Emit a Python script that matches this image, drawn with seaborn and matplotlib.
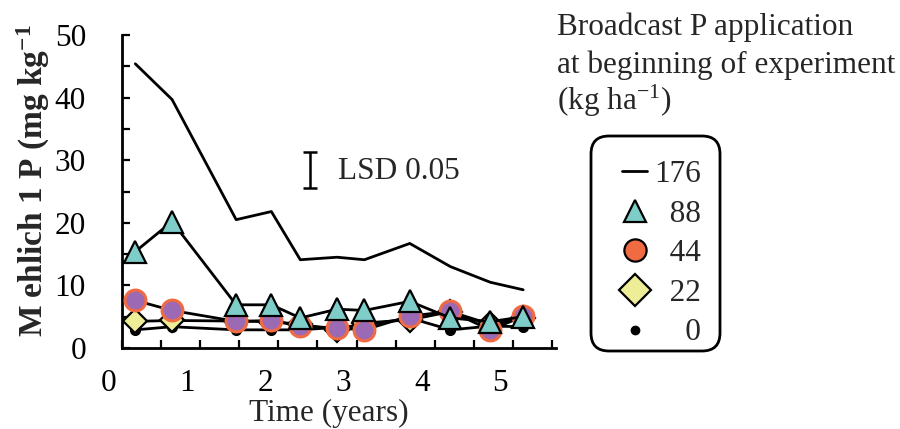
import numpy as np
import pandas as pd
import matplotlib
matplotlib.use("Agg")
import matplotlib.pyplot as plt
import seaborn as sns
from matplotlib.lines import Line2D
from matplotlib.patches import FancyBboxPatch
from matplotlib.ticker import FixedLocator, MultipleLocator
from matplotlib.transforms import ScaledTranslation, IdentityTransform

# ---------------- data ----------------
years = [0.17, 0.64, 1.46, 1.91, 2.28, 2.75, 3.10, 3.68, 4.20, 4.71, 5.13]
p176 = [45.4, 39.7, 20.5, 21.8, 14.1, 14.5, 14.1, 16.7, 13.0, 10.5, 9.3]
p88 = [15.4, 20.2, 6.9, 6.9, 4.8, 6.2, 6.0, 7.45, 4.8, 4.2, 5.0]
p44 = [7.6, 6.0, 4.25, 4.4, 3.5, 3.2, 2.9, 5.1, 5.85, 2.9, 5.05]
p22 = [4.25, 4.4, 4.3, 4.2, 3.8, 2.9, 4.0, 4.5, 5.8, 3.8, 4.8]
p0 = [2.9, 3.4, 2.9, 2.9, 2.9, 3.3, 3.6, 4.8, 2.9, 3.5, 3.4]

series_names = ["176", "88", "44", "22", "0"]
legend_labels = ["176", "\u200788", "\u200744", "\u200722", "\u2007\u20070"]
x_ticks = [0, 1, 2, 3, 4, 5]
x_tick_labels = ["0", "1", "2", "3", "4", "5"]
y_ticks = [0, 10, 20, 30, 40, 50]

lsd_x = 2.41
lsd_mid = 28.4
lsd_half = 2.85
lsd_label = "LSD 0.05"

title_lines = ["Broadcast P application",
               "at beginning of experiment",
               "(kg ha$^{-1}$)"]

df = pd.DataFrame({"years": years, "176": p176, "88": p88,
                   "44": p44, "22": p22, "0": p0})

# ---------------- style ----------------
sns.set_style("ticks")
plt.rcParams["font.family"] = ["Liberation Serif", "DejaVu Serif"]
plt.rcParams["mathtext.default"] = "regular"
FS = 22.5

teal = "#7fcdc8"
purple = "#9c6ab4"
orange = "#f06a42"
yellow = "#eeee99"

fig = plt.figure(figsize=(9, 4.29), dpi=100)
ax = fig.add_axes([122 / 900, 81 / 429, 434 / 900, 313 / 429])

styles = {
    "176": dict(zorder=2),
    "0": dict(marker="o", markersize=7, markerfacecolor="black",
              markeredgecolor="black", markeredgewidth=1, zorder=3),
    "22": dict(marker="D", markersize=12, markerfacecolor=yellow,
               markeredgecolor="black", markeredgewidth=1.6, zorder=4),
    "44": dict(marker="o", markersize=15, markerfacecolor=purple,
               markeredgecolor=orange, markeredgewidth=2.2, zorder=5),
    "88": dict(marker="^", markersize=16.5, markerfacecolor=teal,
               markeredgecolor="black", markeredgewidth=1.6, zorder=6),
}
for name in ["176", "0", "22", "44", "88"]:
    sns.lineplot(data=df, x="years", y=name, ax=ax, color="black",
                 linewidth=2, legend=False, **styles[name])

# LSD bar
ax.errorbar([lsd_x], [lsd_mid], yerr=[lsd_half], color="black",
            linewidth=1.8, capsize=4.7, capthick=1.8, fmt="none", zorder=7)
ax.text(2.76, 28.2, lsd_label, fontsize=FS, ha="left", va="center")

# axes
ax.set_xlim(0, 5.55)
ax.set_ylim(0, 50)
ax.xaxis.set_major_locator(FixedLocator(x_ticks))
ax.set_xticklabels(x_tick_labels)
ax.xaxis.set_minor_locator(MultipleLocator(0.5))
ax.yaxis.set_major_locator(FixedLocator(y_ticks))
ax.yaxis.set_minor_locator(MultipleLocator(5))
ax.tick_params(which="both", direction="in", length=6, width=1.6,
               color="black", labelsize=FS, labelcolor="black")
ax.tick_params(axis="y", pad=26)
ax.tick_params(axis="x", pad=15)
offset = ScaledTranslation(-13 / 100, 0, fig.dpi_scale_trans)
for lab in ax.get_xticklabels():
    lab.set_transform(lab.get_transform() + offset)

sns.despine(ax=ax)
for s in ["left", "bottom"]:
    ax.spines[s].set_linewidth(2)
    ax.spines[s].set_color("black")

ax.set_xlabel("Time (years)", fontsize=FS)
ax.xaxis.label.set_va("center")
ax.xaxis.set_label_coords((329 - 122) / 434, (348 - 413) / 313)

ax.set_ylabel("M ehlich 1 P (mg kg$^{-1}$", fontsize=24, fontweight="bold")
ax.yaxis.label.set_ha("left")
ax.yaxis.label.set_va("center")
ax.yaxis.set_label_coords((33 - 122) / 434, (348 - 337) / 313)

# legend title
for txt, base in zip(title_lines, [35, 73, 110]):
    fig.text(557 / 900, 1 - base / 429, txt, fontsize=FS,
             ha="left", va="baseline")

# legend frame (rounded box)
box = FancyBboxPatch((591, 429 - 351), 129, 215,
                     boxstyle="round,pad=0,rounding_size=18",
                     transform=IdentityTransform(), facecolor="white",
                     edgecolor="black", linewidth=2, zorder=1)
fig.add_artist(box)

# legend
handles = [
    Line2D([], [], color="black", linewidth=2),
    Line2D([], [], ls="none", marker="^", markersize=16,
           markerfacecolor=teal, markeredgecolor="black", markeredgewidth=1.6),
    Line2D([], [], ls="none", marker="o", markersize=16,
           markerfacecolor=orange, markeredgecolor="black", markeredgewidth=1.6),
    Line2D([], [], ls="none", marker="D", markersize=16.5,
           markerfacecolor=yellow, markeredgecolor="black", markeredgewidth=1.6),
    Line2D([], [], ls="none", marker="o", markersize=6,
           markerfacecolor="black", markeredgecolor="black"),
]
leg = fig.legend(handles, legend_labels, loc="upper left",
                 bbox_to_anchor=(622 / 900, 1 - 160 / 429),
                 bbox_transform=fig.transFigure, fontsize=FS,
                 frameon=False, handlelength=0.8,
                 handletextpad=0.22, borderpad=0, labelspacing=0.34,
                 borderaxespad=0)
leg.set_zorder(5)

fig.savefig("out.png", dpi=100)
